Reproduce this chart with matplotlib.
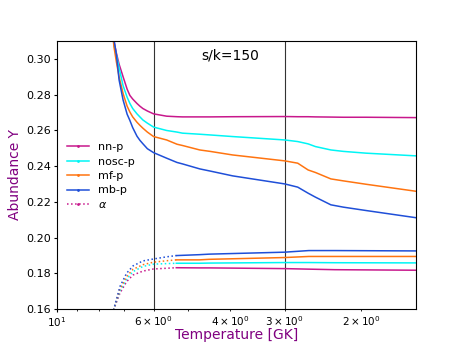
import numpy as np
import matplotlib
matplotlib.use("Agg")
import matplotlib.pyplot as plt
from matplotlib.lines import Line2D

# temperatures (GK) for the proton mass-fraction curves
T_p = [8.0, 7.4, 7.3, 7.2, 7.05, 6.9, 6.8, 6.7, 6.55, 6.45, 6.35, 6.2, 6.0,
       5.6, 5.3, 5.15, 4.7, 4.45, 3.95, 3.0, 2.8, 2.65, 2.55, 2.35, 2.2, 1.95, 1.5]
Yp_nn = [0.40, 0.310, 0.303, 0.297, 0.290, 0.283, 0.2795, 0.2775, 0.2750, 0.2735,
         0.2722, 0.2708, 0.2692, 0.2679, 0.2676, 0.2675, 0.2675, 0.2675, 0.2676,
         0.2677, 0.2676, 0.2676, 0.2675, 0.2674, 0.2673, 0.2673, 0.2671]
Yp_nosc = [0.40, 0.308, 0.302, 0.295, 0.285, 0.2785, 0.2750, 0.2722, 0.2692, 0.2675,
           0.2658, 0.2640, 0.2618, 0.2599, 0.2590, 0.2584, 0.2578, 0.2574, 0.2565,
           0.2546, 0.2537, 0.2524, 0.2509, 0.2490, 0.2482, 0.2472, 0.2457]
Yp_mf = [0.40, 0.307, 0.298, 0.290, 0.2806, 0.2735, 0.2702, 0.2675, 0.2645, 0.2628,
         0.2612, 0.2590, 0.2565, 0.2546, 0.2522, 0.2515, 0.2490, 0.2482, 0.2462,
         0.2429, 0.2416, 0.2378, 0.2364, 0.2328, 0.2317, 0.2298, 0.2259]
Yp_mb = [0.42, 0.311, 0.302, 0.2882, 0.2770, 0.2690, 0.2655, 0.2615, 0.2567, 0.2544,
         0.2525, 0.2497, 0.2475, 0.2444, 0.2420, 0.2412, 0.2384, 0.2372, 0.2345,
         0.2300, 0.2282, 0.2248, 0.2226, 0.2183, 0.2170, 0.2151, 0.2111]

# temperatures (GK) for the alpha curves
T_a = [7.5, 7.4, 7.17, 6.92, 6.69, 6.35, 6.0, 5.6, 5.32, 4.71, 4.47, 3.0, 2.64, 2.3, 1.5]
Ya_nn = [0.155, 0.160, 0.1688, 0.1753, 0.1790, 0.1812, 0.1824, 0.1828, 0.1831,
         0.1830, 0.1830, 0.1826, 0.1823, 0.1820, 0.1817]
Ya_nosc = [0.155, 0.160, 0.1700, 0.1767, 0.1809, 0.1838, 0.1851, 0.1854, 0.1856,
           0.1856, 0.1857, 0.1860, 0.1860, 0.1859, 0.1858]
Ya_mf = [0.155, 0.160, 0.1710, 0.1781, 0.1822, 0.1848, 0.1862, 0.1870, 0.1875,
         0.1875, 0.1878, 0.1888, 0.1894, 0.1894, 0.1894]
Ya_mb = [0.155, 0.160, 0.1725, 0.1800, 0.1841, 0.1869, 0.1880, 0.1892, 0.1899,
         0.1904, 0.1907, 0.1918, 0.1927, 0.1927, 0.1925]

labels = ["nn-p", "nosc-p", "mf-p", "mb-p"]
colors = ["#c8188c", "#00f5f5", "#ff7410", "#1f4fd8"]
Yp = [Yp_nn, Yp_nosc, Yp_mf, Yp_mb]
Ya = [Ya_nn, Ya_nosc, Ya_mf, Ya_mb]

fig = plt.figure(figsize=(4.63, 3.47), dpi=100)
ax = fig.add_axes([0.123, 0.1095, 0.775, 0.7725])

ax.axvline(6.0, color="#333333", lw=0.8)
ax.axvline(3.0, color="#333333", lw=0.8)

split = 8  # index of T=5.32: dotted before, solid after
for yp, ya, c in zip(Yp, Ya, colors):
    ax.plot(T_p, yp, color=c, lw=1.1)
    ax.plot(T_a[:split + 1], ya[:split + 1], color=c, lw=1.1, ls=":")
    ax.plot(T_a[split:], ya[split:], color=c, lw=1.1)

ax.set_xscale("log")
ax.set_xlim(10, 1.5)
ax.set_ylim(0.16, 0.31)
ax.set_yticks(np.arange(0.16, 0.301, 0.02))
ax.tick_params(axis="y", labelsize=8, length=2.5, pad=2)
ax.tick_params(axis="x", which="major", labelsize=7.5, length=2.5, pad=2)
ax.tick_params(axis="x", which="minor", labelsize=7.5, length=1.5, pad=2)

ax.set_xlabel("Temperature [GK]", color="purple", fontsize=10)
ax.set_ylabel("Abundance Y", color="purple", fontsize=10)
ax.xaxis.set_label_coords(0.5, -0.072)
ax.yaxis.set_label_coords(-0.097, 0.5)
ax.text(4.0, 0.302, "s/k=150", ha="center", va="center", fontsize=10)

handles = [Line2D([], [], color=c, lw=1.1, marker=".", markersize=2) for c in colors]
handles.append(Line2D([], [], color=colors[0], lw=1.1, ls=":", marker=".", markersize=2))
ax.legend(handles, labels + [r"$\alpha$"], loc="upper left",
          bbox_to_anchor=(0.0, 0.66), frameon=False, fontsize=8, labelspacing=0.4)

fig.savefig("out.png", dpi=100)
